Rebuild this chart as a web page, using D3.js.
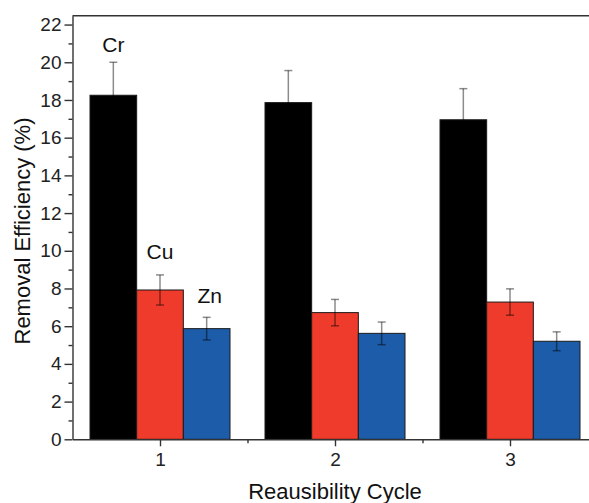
<!DOCTYPE html>
<html lang="en">
  <head>
    <meta charset="UTF-8" />
    <title>Removal Efficiency</title>
    <script src="https://d3js.org/d3.v7.min.js"></script>
    <style>
      body { margin: 0; background: #fff; }
      svg { display: block; font-family: 'Liberation Sans', Arial, sans-serif; }
    </style>
  </head>
  <body>
    <div class="d3Chart"></div>
    <script>
      // data
      const cycles = ['1', '2', '3']
      const metals = ['Cr', 'Cu', 'Zn']
      const crValues = [18.25, 17.86, 16.95]
      const crErrors = [1.75, 1.7, 1.65]
      const cuValues = [7.92, 6.72, 7.28]
      const cuErrors = [0.8, 0.7, 0.7]
      const znValues = [5.87, 5.62, 5.2]
      const znErrors = [0.6, 0.6, 0.5]
      const yTicks = [0, 2, 4, 6, 8, 10, 12, 14, 16, 18, 20, 22]

      const colors = { Cr: '#000000', Cu: '#ee3b2b', Zn: '#1c5ca9' }
      const series = { Cr: [crValues, crErrors], Cu: [cuValues, cuErrors], Zn: [znValues, znErrors] }

      const rows = []
      cycles.forEach((c, i) => {
        metals.forEach((m) => {
          rows.push({ cycle: c, metal: m, value: series[m][0][i], err: series[m][1][i] })
        })
      })

      // canvas
      const width = 589
      const height = 503
      const plotLeft = 72.5
      const plotTop = 15.7
      const plotBottom = 439.3
      const plotRight = plotLeft + 525

      const svg = d3.select('.d3Chart').append('svg').attr('width', width).attr('height', height)

      const x = d3.scaleBand().domain(cycles).range([plotLeft, plotRight]).paddingInner(0.2).paddingOuter(0.1)
      const xm = d3.scaleBand().domain(metals).range([0, x.bandwidth()])
      const xLin = d3.scaleLinear().domain([0.5, 3.5]).range([plotLeft, plotRight])
      const y = d3.scaleLinear().domain([0, 22.47]).range([plotBottom, plotTop])

      // bars
      svg
        .append('g')
        .selectAll('rect')
        .data(rows)
        .join('rect')
        .attr('x', (d) => x(d.cycle) + xm(d.metal))
        .attr('y', (d) => y(d.value))
        .attr('width', xm.bandwidth())
        .attr('height', (d) => y(0) - y(d.value))
        .attr('fill', (d) => colors[d.metal])
        .attr('stroke', '#1a1a1a')
        .attr('stroke-width', 1)

      // error bars (translucent black: grey on white, darker shade over bars)
      const eb = svg
        .append('g')
        .attr('stroke', '#000')
        .attr('stroke-opacity', 0.45)
        .attr('stroke-width', 1.5)
        .selectAll('g')
        .data(rows)
        .join('g')
        .attr('transform', (d) => `translate(${x(d.cycle) + xm(d.metal) + xm.bandwidth() / 2},0)`)
      eb.append('line')
        .attr('y1', (d) => y(d.value - d.err))
        .attr('y2', (d) => y(d.value + d.err))
      eb.append('line')
        .attr('x1', -4)
        .attr('x2', 4)
        .attr('y1', (d) => y(d.value + d.err))
        .attr('y2', (d) => y(d.value + d.err))
      eb.append('line')
        .attr('x1', -4)
        .attr('x2', 4)
        .attr('y1', (d) => y(d.value - d.err))
        .attr('y2', (d) => y(d.value - d.err))

      // metal labels over the first cycle
      const labelGap = { Cr: 10, Cu: 16, Zn: 14 }
      svg
        .append('g')
        .selectAll('text')
        .data(rows.filter((d) => d.cycle === cycles[0]))
        .join('text')
        .attr('x', (d) => x(d.cycle) + xm(d.metal) + xm.bandwidth() / 2 + (d.metal === 'Zn' ? 3 : 0))
        .attr('y', (d) => y(d.value + d.err) - labelGap[d.metal])
        .attr('text-anchor', 'middle')
        .attr('font-size', 21)
        .attr('fill', '#111')
        .text((d) => d.metal)

      // y axis
      svg
        .append('g')
        .attr('transform', `translate(${plotLeft},0)`)
        .call(d3.axisLeft(y).tickValues(yTicks).tickSize(8).tickPadding(3).tickSizeOuter(0))
      svg
        .append('g')
        .attr('transform', `translate(${plotLeft},0)`)
        .call(d3.axisLeft(y).tickValues(d3.range(1, 22, 2)).tickSize(4).tickFormat('').tickSizeOuter(0))
        .call((g) => g.select('.domain').remove())

      // x axis
      svg
        .append('g')
        .attr('transform', `translate(0,${plotBottom})`)
        .call(d3.axisBottom(xLin).tickValues([1, 2, 3]).tickFormat(d3.format('d')).tickSize(7).tickPadding(6).tickSizeOuter(0))
      svg
        .append('g')
        .attr('transform', `translate(0,${plotBottom})`)
        .call(d3.axisBottom(xLin).tickValues([1.5, 2.5]).tickSize(4).tickFormat('').tickSizeOuter(0))
        .call((g) => g.select('.domain').remove())

      svg.selectAll('.tick text').attr('font-size', 19).attr('fill', '#222').attr('font-family', 'Liberation Sans, Arial, sans-serif')
      svg.selectAll('.tick line, .domain').attr('stroke', '#333').attr('stroke-width', 1.4)

      // top frame line
      svg
        .append('line')
        .attr('x1', plotLeft)
        .attr('x2', plotRight)
        .attr('y1', plotTop)
        .attr('y2', plotTop)
        .attr('stroke', '#333')
        .attr('stroke-width', 1.4)

      // titles
      svg
        .append('text')
        .attr('x', xLin(2))
        .attr('y', 499)
        .attr('text-anchor', 'middle')
        .attr('font-size', 22)
        .attr('fill', '#111')
        .text('Reausibility Cycle')

      svg
        .append('text')
        .attr('transform', `translate(30,231) rotate(-90)`)
        .attr('text-anchor', 'middle')
        .attr('font-size', 22)
        .attr('fill', '#111')
        .text('Removal Efficiency (%)')
    </script>
  </body>
</html>
